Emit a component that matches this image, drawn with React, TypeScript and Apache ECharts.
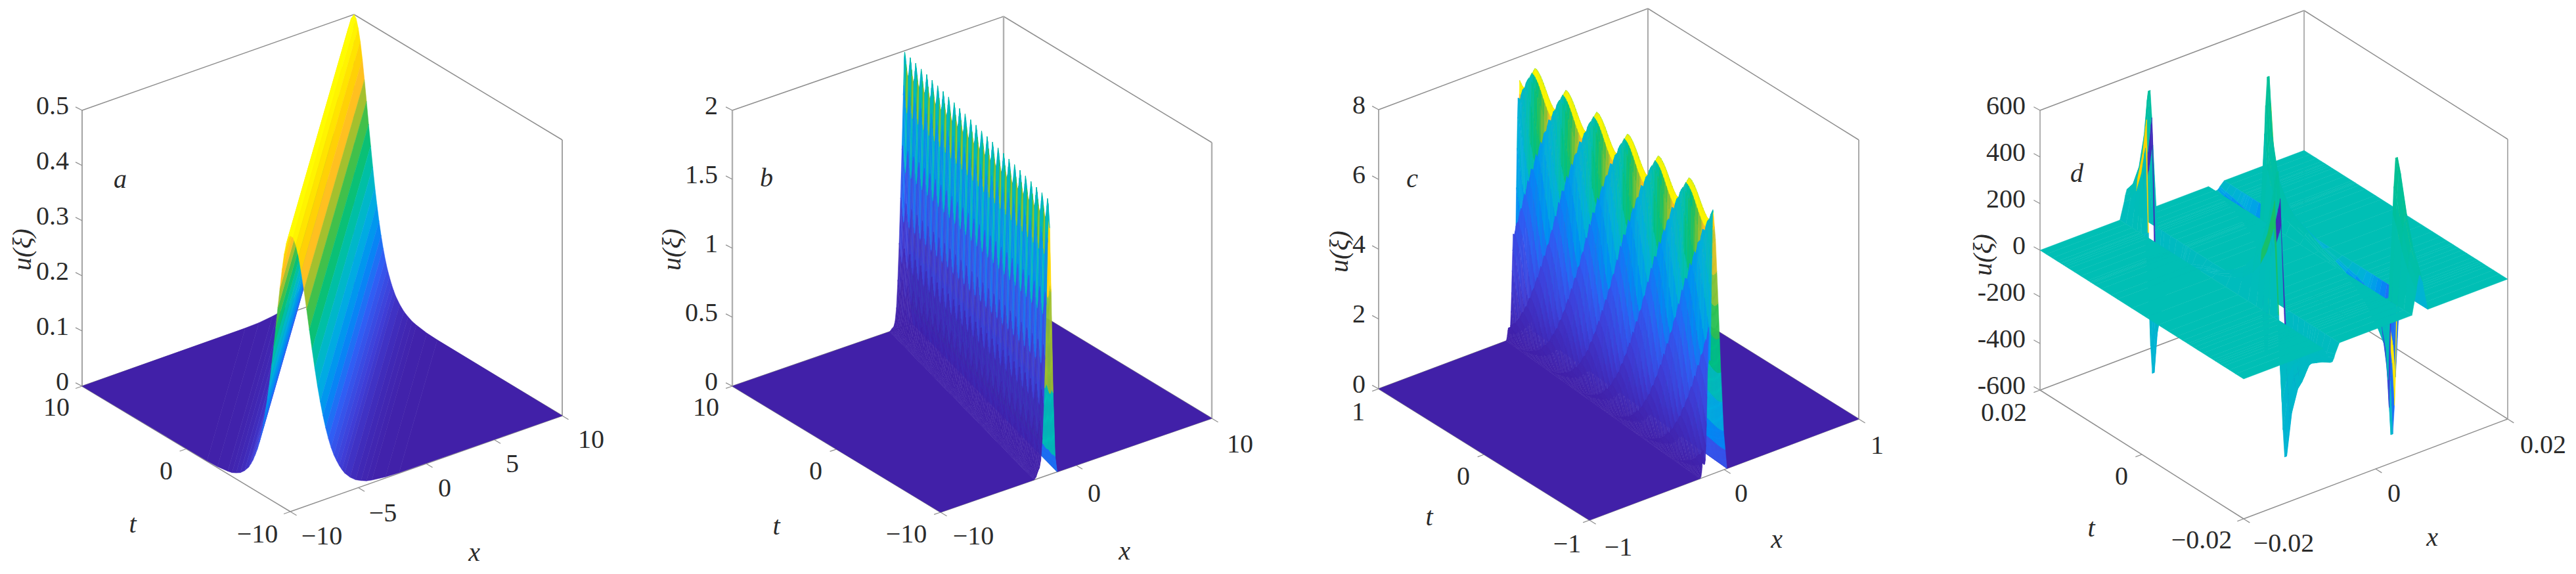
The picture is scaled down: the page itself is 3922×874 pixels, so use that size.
import { useEffect, useRef } from 'react'
import * as echarts from 'echarts'

// ---- values ----

// panel a: u against |x - t| (even in x - t), drawn as strips along the ridge
const aXi = [0, 0.2, 0.4, 0.6, 0.8, 1, 1.2, 1.4, 1.6, 1.8, 2, 2.2, 2.4, 2.6, 2.8, 3, 3.2, 3.4, 3.6, 3.8, 4, 4.4, 4.8, 5.2, 5.6, 6, 7, 8, 20]
const aU = [0.5, 0.495, 0.48, 0.458, 0.428, 0.393, 0.356, 0.317, 0.28, 0.244, 0.21, 0.18, 0.153, 0.129, 0.108, 0.09, 0.075, 0.063, 0.052, 0.043, 0.035, 0.024, 0.016, 0.011, 0.007, 0.005, 0.002, 0.001, 0]

// panel b: wall across x and its ripple along t
const bXi = [0, 0.15, 0.3, 0.4, 0.5, 0.6, 0.7, 0.8, 0.9, 1, 1.06, 1.15, 1.25, 1.4, 1.55, 1.7]
const bEnv = [0, 0.01, 0.03, 0.06, 0.11, 0.2, 0.32, 0.48, 0.67, 0.88, 1, 0.92, 0.68, 0.3, 0.06, 0]
const bShift = [1.2, 1, 0.8, 0.6, 0.45, 0.3, 0.2, 0.1, 0.05, 0, 0, 0, 0, 0, 0, 0]
const bDepth = [1, 1, 1, 0.85, 0.7, 0.55, 0.42, 0.32, 0.25, 0.18, 0.13, 0.13, 0.13, 0.13, 0.13, 0.13]
const bGamma = [2, 2, 2, 2, 2, 2, 2, 2, 2, 2, 2, 0.4, 0.4, 0.4, 0.4, 0.4]
const bHump = [1, 0.86, 0.68, 0.52, 0.42, 0.4, 0.52, 0.76]
const bTone = [0.6, 0.55, 0.82, 0.98, 1, 0.72, 0.55, 0.5]

// panel c: wall across x and its six humps along t
const cXi = [0, 0.008, 0.016, 0.024, 0.032, 0.04, 0.048, 0.056, 0.064, 0.072, 0.08, 0.088, 0.096, 0.1, 0.115, 0.135, 0.155, 0.175, 0.2]
const cEnv = [0, 0.02, 0.05, 0.1, 0.16, 0.24, 0.33, 0.43, 0.54, 0.65, 0.76, 0.86, 0.95, 1, 0.9, 0.65, 0.38, 0.15, 0]
const cShift = [3, 2.7, 2.45, 2.2, 2, 1.8, 1.6, 1.4, 1.2, 1, 0.75, 0.5, 0.2, 0, 0, 0, 0, 0, 0]
const cDepth = [1, 1, 1, 1, 0.97, 0.92, 0.85, 0.75, 0.65, 0.55, 0.45, 0.3, 0.15, 0.12, 0.12, 0.12, 0.12, 0.12, 0.12]
const cGamma = [1.3, 1.3, 1.3, 1.3, 1.3, 1.3, 1.3, 1.3, 1.3, 1.3, 1.3, 1.3, 1.3, 1.3, 0.5, 0.5, 0.5, 0.5, 0.5]
const cHump = [1, 0.96, 0.87, 0.74, 0.58, 0.42, 0.28, 0.18, 0.16, 0.3, 0.55, 0.82]
const cTone = [0.5, 0.54, 0.58, 0.64, 0.72, 0.8, 0.88, 0.94, 1, 1, 0.85, 0.6]

// panel d: two singular lines x = +-0.0067; heights along them per row (null = off the axis)
const dFrac = [0, 0.03, 0.06, 0.085, 0.1, 0.105, 0.115, 0.125, 0.14, 0.17, 0.2, 0.235, 0.245, 0.25, 0.255, 0.27, 0.3, 0.35, 0.38, 0.45, 0.52, 0.58, 0.63, 0.67, 0.7, 0.725, 0.735, 0.755, 0.775, 0.8, 0.83, 0.85, 0.862, 0.873, 0.885, 0.9, 0.93, 0.96, 1]
const dLine1 = [120, 160, 250, 400, 560, 600, null, -600, -420, -260, -190, -150, -140, -130, -125, -110, -70, -35, -20, 15, 60, 110, 190, 290, 400, 540, 600, null, -600, -400, -280, -240, -210, -180, -150, -130, -110, -90, -70]
const dLine2 = [-30, -40, -50, -60, -65, -70, -75, -80, -90, -110, -150, -300, -600, null, 600, 350, 190, 100, 70, 40, 5, -15, -35, -50, -70, -90, -100, -120, -150, -180, -230, -380, -600, null, 600, 540, 380, 260, 160]
const dOffset = [-0.0012, -0.00055, -0.0004, -0.00015, 0.00015, 0.0004, 0.00055, 0.0012]
const dPeak = [0, 0.6, 0.8, 1, 1, 0.8, 0.6, 0]

// tick labels
const aZTicks = ['0', '0.1', '0.2', '0.3', '0.4', '0.5']
const bZTicks = ['0', '0.5', '1', '1.5', '2']
const cZTicks = ['0', '2', '4', '6', '8']
const dZTicks = ['-600', '-400', '-200', '0', '200', '400', '600']

const COLOR_POS = [0, 0.1, 0.2, 0.3, 0.4, 0.5, 0.58, 0.66, 0.74, 0.82, 0.9, 1]
const COLOR_HEX = ['#4120a8', '#3f3fd8', '#2f5ff5', '#008cf5', '#00aee0', '#00bfb5', '#00c080', '#30c050', '#98c030', '#ffc020', '#ffd400', '#ffff00']

const serif = '"Liberation Serif", "Times New Roman", serif'
const frameColor = '#8f8f8f'

type P3 = [number, number, number]
type Panel = {
  front: number[]; left: number[]; right: number[]; height: number
  xr: number[]; tr: number[]; zr: number[]
  xTicks: number[]; tTicks: number[]; zTicks: number[]
  vert: string; vertW: number
  zLabels: string[]; zRight: number
  labels: [string, number, number][]
  tPos: number[]; xPos: number[]; letter: string; letterPos: number[]; uPos: number[]
}

const hexRgb = (h: string) => [1, 3, 5].map((i) => parseInt(h.slice(i, i + 2), 16))
function colorOf(v: number) {
  const c = Math.max(0, Math.min(1, v))
  let i = 0
  while (i < COLOR_POS.length - 2 && c > COLOR_POS[i + 1]) i++
  const f = (c - COLOR_POS[i]) / (COLOR_POS[i + 1] - COLOR_POS[i])
  const a = hexRgb(COLOR_HEX[i])
  const b = hexRgb(COLOR_HEX[i + 1])
  return `rgb(${a.map((q, k) => Math.round(q + (b[k] - q) * f)).join(',')})`
}

const panels: Panel[] = [
  {
    front: [442, 779], left: [125, 588], right: [856, 633], height: 420,
    xr: [-10, 10], tr: [-10, 10], zr: [0, 0.5],
    xTicks: [-10, -5, 0, 5, 10], tTicks: [-10, 0, 10], zTicks: [0, 0.1, 0.2, 0.3, 0.4, 0.5],
    vert: '#8c8c8c', vertW: 1.6, zLabels: aZTicks, zRight: 105,
    labels: [['10', 86, 619], ['0', 253, 716], ['\u221210', 392, 812], ['\u221210', 490, 815], ['\u22125', 583, 780], ['0', 677, 742], ['5', 780, 705], ['10', 900, 668]],
    tPos: [202, 797], xPos: [722, 840], letter: 'a', letterPos: [183, 272], uPos: [33, 380],
  },
  {
    front: [1432, 780], left: [1115, 588], right: [1845, 637], height: 420,
    xr: [-10, 10], tr: [-10, 10], zr: [0, 2],
    xTicks: [-10, 0, 10], tTicks: [-10, 0, 10], zTicks: [0, 0.5, 1, 1.5, 2],
    vert: '#b0b0b0', vertW: 2.4, zLabels: bZTicks, zRight: 1093,
    labels: [['10', 1075, 619], ['0', 1242, 716], ['\u221210', 1380, 812], ['\u221210', 1482, 815], ['0', 1666, 750], ['10', 1888, 675]],
    tPos: [1182, 800], xPos: [1712, 838], letter: 'b', letterPos: [1167, 270], uPos: [1022, 380],
  },
  {
    front: [2420, 792], left: [2099, 592], right: [2830, 638], height: 425,
    xr: [-1, 1], tr: [-1, 1], zr: [0, 8],
    xTicks: [-1, 0, 1], tTicks: [-1, 0, 1], zTicks: [0, 2, 4, 6, 8],
    vert: '#a0a0a0', vertW: 1.8, zLabels: cZTicks, zRight: 2079,
    labels: [['1', 2068, 626], ['0', 2228, 724], ['\u22121', 2386, 827], ['\u22121', 2464, 832], ['0', 2651, 750], ['1', 2858, 677]],
    tPos: [2176, 786], xPos: [2705, 820], letter: 'c', letterPos: [2150, 271], uPos: [2038, 383],
  },
  {
    front: [3416, 790], left: [3106, 594], right: [3818, 638], height: 426,
    xr: [-0.02, 0.02], tr: [-0.02, 0.02], zr: [-600, 600],
    xTicks: [-0.02, 0, 0.02], tTicks: [-0.02, 0, 0.02], zTicks: [-600, -400, -200, 0, 200, 400, 600],
    vert: '#a8a8a8', vertW: 1.8, zLabels: dZTicks, zRight: 3084,
    labels: [['0.02', 3051, 627], ['0', 3230, 724], ['\u22120.02', 3352, 821], ['\u22120.02', 3477, 826], ['0', 3645, 750], ['0.02', 3872, 676]],
    tPos: [3184, 803], xPos: [3703, 817], letter: 'd', letterPos: [3162, 263], uPos: [3018, 388],
  },
]

function project(p: Panel, q: P3): number[] {
  const a = (q[0] - p.xr[0]) / (p.xr[1] - p.xr[0])
  const b = (q[1] - p.tr[0]) / (p.tr[1] - p.tr[0])
  const c = (q[2] - p.zr[0]) / (p.zr[1] - p.zr[0])
  return [
    p.front[0] + a * (p.right[0] - p.front[0]) + b * (p.left[0] - p.front[0]),
    p.front[1] + a * (p.right[1] - p.front[1]) + b * (p.left[1] - p.front[1]) - c * p.height,
  ]
}

// keep the part of a cell that lies inside the x/t box
function clip(poly: P3[], axis: number, lim: number, keepAbove: boolean) {
  const out: P3[] = []
  const inside = (q: P3) => (keepAbove ? q[axis] >= lim : q[axis] <= lim)
  poly.forEach((a, i) => {
    const b = poly[(i + 1) % poly.length]
    if (inside(a)) out.push(a)
    if (inside(a) !== inside(b)) {
      const f = (lim - a[axis]) / (b[axis] - a[axis])
      out.push([a[0] + (b[0] - a[0]) * f, a[1] + (b[1] - a[1]) * f, a[2] + (b[2] - a[2]) * f])
    }
  })
  return out
}
function clipBox(p: Panel, poly: P3[]) {
  let r = clip(poly, 0, p.xr[0], true)
  r = clip(r, 0, p.xr[1], false)
  r = clip(r, 1, p.tr[0], true)
  return clip(r, 1, p.tr[1], false)
}

type Cell = { pts: P3[]; color: string }

function surfaceA(p: Panel): Cell[] {
  const xi = [...aXi.slice(1).reverse().map((v) => -v), ...aXi]
  const u = [...aU.slice(1).reverse(), ...aU]
  const cells: Cell[] = []
  for (let i = 0; i < xi.length - 1; i++) {
    const corner = (k: number, s: number): P3 => [(s + xi[k]) / 2, (s - xi[k]) / 2, u[k]]
    const pts = clipBox(p, [corner(i, -40), corner(i + 1, -40), corner(i + 1, 40), corner(i, 40)])
    if (pts.length > 2) cells.push({ pts, color: colorOf((u[i] + u[i + 1]) / 2 / 0.5) })
  }
  return cells
}

type Wall = {
  x0: number; slope: number; period: number; crest: number; perPeriod: number; refine: number; farTone: number
  xi: number[]; env: number[]; shift: number[]; depth: number[]; gamma: number[]; hump: number[]; tone: number[]
}
const wrap = (v: number) => ((v % 1) + 1) % 1
function humpAt(h: number[], phase: number) {
  const f = wrap(phase) * h.length
  const i = Math.floor(f)
  return h[i % h.length] + (h[(i + 1) % h.length] - h[i % h.length]) * (f - i)
}
// finer mesh across the wall between the table's columns
function refineCol(col: number[], m: number) {
  const out: number[] = []
  for (let i = 0; i < col.length - 1; i++) {
    for (let k = 0; k < m; k++) out.push(col[i] + ((col[i + 1] - col[i]) * k) / m)
  }
  out.push(col[col.length - 1])
  return out
}
function surfaceWall(p: Panel, w: Wall): Cell[] {
  const zMax = p.zr[1]
  const xi = refineCol(w.xi, w.refine)
  const env = refineCol(w.env, w.refine)
  const shift = refineCol(w.shift, w.refine)
  const depth = refineCol(w.depth, w.refine)
  const gamma = refineCol(w.gamma, w.refine)
  const phaseOf = (i: number, t: number) => (w.crest + shift[i] * w.period - t) / w.period
  const nodeZ = (i: number, t: number) => zMax * env[i] * (1 - depth[i] * (1 - humpAt(w.hump, phaseOf(i, t))))
  const floorColor = COLOR_HEX[0]
  const [xa, xb] = p.xr
  const [ta, tb] = p.tr
  const edge = (v: number, t: number) => w.x0 + w.slope * t + v
  const cells: Cell[] = [
    { color: floorColor, pts: [[xa, tb, 0], [edge(xi[0], tb), tb, 0], [edge(xi[0], ta), ta, 0], [xa, ta, 0]] },
    { color: floorColor, pts: [[edge(xi[xi.length - 1], tb), tb, 0], [xb, tb, 0], [xb, ta, 0], [edge(xi[xi.length - 1], ta), ta, 0]] },
  ]
  const dt = w.period / w.perPeriod
  for (let t = tb; t > ta + 1e-9; t -= dt) {
    const t2 = Math.max(t - dt, ta)
    for (let i = xi.length - 2; i >= 0; i--) {
      const node = (k: number, tt: number): P3 => [edge(xi[k], tt), tt, nodeZ(k, tt)]
      const q = [node(i, t), node(i + 1, t), node(i + 1, t2), node(i, t2)]
      const mean = (q[0][2] + q[1][2] + q[2][2] + q[3][2]) / 4 / zMax
      const far = gamma[i] < 1
      const rim = env[i] >= 0.97 && env[i + 1] >= 0.97
      const phase = wrap(phaseOf(i, (t + t2) / 2))
      const tone = far ? w.farTone : w.tone[Math.floor(phase * w.tone.length) % w.tone.length]
      cells.push({ pts: q, color: colorOf(rim ? 0.98 : Math.pow(mean, gamma[i]) * tone) })
    }
  }
  return cells
}

function surfaceD(p: Panel): Cell[] {
  const x1 = -0.0067
  const x2 = 0.0067
  const xs = [p.xr[0], ...dOffset.map((o) => x1 + o), ...dOffset.map((o) => x2 + o), p.xr[1]]
  const weight = (k: number, line: number) => {
    const j = line === 1 ? k - 1 : k - 1 - dOffset.length
    return j >= 0 && j < dPeak.length ? dPeak[j] : 0
  }
  const tOf = (f: number) => p.tr[1] - f * (p.tr[1] - p.tr[0])
  const nodeZ = (k: number, r: number) => {
    const w1 = weight(k, 1)
    const w2 = weight(k, 2)
    const a = dLine1[r]
    const b = dLine2[r]
    if ((w1 === 1 && a === null) || (w2 === 1 && b === null)) return null
    return w1 * (a ?? 0) + w2 * (b ?? 0)
  }
  const tone = (k: number, z: number, frac: number) => {
    const big = Math.abs(z) > 200
    const j1 = k - 1
    const j2 = k - 1 - dOffset.length
    if (j1 === 1 && z > 200) return frac < 0.2 ? 0.9 : 0.62
    if (j1 === 5 && big) return 0.04
    if (j2 === 1 && z < -200) return 0.1
    if (j2 === 5 && big) return 0.95
    if (j2 >= 4 && j2 <= 6 && z < 0) return 0.5 - 0.26 * Math.min(1, Math.abs(z) / 60)
    if (j2 >= 4 && j2 <= 6 && z > 0 && z < 150) return 0.43
    return 0.5 + (z / 600) * 0.06 + (j1 >= 0 && j1 < 8 && z !== 0 ? -0.02 : 0)
  }
  const cells: Cell[] = []
  for (let r = 0; r < dFrac.length - 1; r++) {
    for (let k = xs.length - 2; k >= 0; k--) {
      const za = nodeZ(k, r)
      const zb = nodeZ(k + 1, r)
      const zc = nodeZ(k + 1, r + 1)
      const zd = nodeZ(k, r + 1)
      if (za === null || zb === null || zc === null || zd === null) continue
      const t1 = tOf(dFrac[r])
      const t2 = tOf(dFrac[r + 1])
      const mean = (za + zb + zc + zd) / 4
      cells.push({
        pts: [[xs[k], t1, za], [xs[k + 1], t1, zb], [xs[k + 1], t2, zc], [xs[k], t2, zd]],
        color: colorOf(tone(k, mean, dFrac[r])),
      })
    }
  }
  return cells
}

const surfaces: Cell[][] = [
  surfaceA(panels[0]),
  surfaceWall(panels[1], { x0: -0.75, slope: 0.235, period: 0.76, crest: 9.9, perPeriod: 8, refine: 1, farTone: 1, xi: bXi, env: bEnv, shift: bShift, depth: bDepth, gamma: bGamma, hump: bHump, tone: bTone }),
  surfaceWall(panels[2], { x0: -0.116, slope: 0.063, period: 0.3176, crest: 0.838, perPeriod: 22, refine: 2, farTone: 0.9, xi: cXi, env: cEnv, shift: cShift, depth: cDepth, gamma: cGamma, hump: cHump, tone: cTone }),
  surfaceD(panels[3]),
]

type Mark =
  | { kind: 'line'; a: number[]; b: number[]; color: string; width: number }
  | { kind: 'poly'; pts: number[][]; color: string }

function frameMarks(p: Panel): Mark[] {
  const [xa, xb] = p.xr
  const [ta, tb] = p.tr
  const [za, zb] = p.zr
  const P = (x: number, t: number, z: number) => project(p, [x, t, z])
  const edge = (a: number[], b: number[]): Mark => ({ kind: 'line', a, b, color: frameColor, width: 1.5 })
  const post = (a: number[], b: number[]): Mark => ({ kind: 'line', a, b, color: p.vert, width: p.vertW })
  const marks: Mark[] = [
    edge(P(xa, tb, za), P(xb, tb, za)),
    edge(P(xb, tb, za), P(xb, ta, za)),
    edge(P(xa, tb, za), P(xa, ta, za)),
    edge(P(xa, ta, za), P(xb, ta, za)),
    edge(P(xa, tb, zb), P(xb, tb, zb)),
    edge(P(xb, tb, zb), P(xb, ta, zb)),
    post(P(xa, tb, za), P(xa, tb, zb)),
    post(P(xb, tb, za), P(xb, tb, zb)),
    post(P(xb, ta, za), P(xb, ta, zb)),
  ]
  const ux = [(p.right[0] - p.front[0]) * 0.024, (p.right[1] - p.front[1]) * 0.024]
  const ut = [(p.left[0] - p.front[0]) * 0.03, (p.left[1] - p.front[1]) * 0.03]
  p.zTicks.forEach((z) => {
    const a = P(xa, tb, z)
    marks.push({ kind: 'line', a, b: [a[0] - ux[0], a[1] - Math.abs(ut[1]) * 0.9], color: frameColor, width: 1.3 })
  })
  p.tTicks.forEach((t) => {
    const a = P(xa, t, za)
    marks.push({ kind: 'line', a, b: [a[0] - ux[0], a[1] - ux[1]], color: frameColor, width: 1.3 })
  })
  p.xTicks.forEach((x) => {
    const a = P(x, ta, za)
    marks.push({ kind: 'line', a, b: [a[0] - ut[0], a[1] - ut[1]], color: frameColor, width: 1.3 })
  })
  return marks
}

function panelText(p: Panel) {
  const base = { fontFamily: serif, fill: '#2b2b2b', fontSize: 40 }
  const els: any[] = []
  const put = (text: string, x: number, y: number, extra: any = {}) =>
    els.push({ type: 'text', x, y, silent: true, rotation: extra.rotation ?? 0, style: { ...base, text, textAlign: extra.align ?? 'center', textVerticalAlign: 'middle', fontStyle: extra.italic ? 'italic' : 'normal' } })
  p.zTicks.forEach((z, i) => put(p.zLabels[i], p.zRight, project(p, [p.xr[0], p.tr[1], z])[1] - 8, { align: 'right' }))
  p.labels.forEach(([s, x, y]) => put(s, x, y))
  put('t', p.tPos[0], p.tPos[1], { italic: true })
  put('x', p.xPos[0], p.xPos[1], { italic: true })
  put(p.letter, p.letterPos[0], p.letterPos[1], { italic: true })
  put('u(\u03be)', p.uPos[0], p.uPos[1], { italic: true, rotation: Math.PI / 2 })
  return els
}

export default function App() {
  const chartRef = useRef<HTMLDivElement>(null)

  useEffect(() => {
    if (!chartRef.current) return
    const chart = echarts.init(chartRef.current, undefined, { renderer: 'svg' })

    const series = panels.map((p, n) => {
      const marks: Mark[] = [
        ...frameMarks(p),
        ...surfaces[n].map((c): Mark => ({ kind: 'poly', color: c.color, pts: c.pts.map((q) => project(p, q)) })),
      ]
      return {
        type: 'custom',
        coordinateSystem: 'cartesian2d',
        clip: false,
        silent: true,
        progressive: 0,
        animation: false,
        data: marks.map((_, i) => [i, 0]),
        renderItem: (params: any, api: any) => {
          const m = marks[params.dataIndex]
          if (m.kind === 'line') {
            const a = api.coord(m.a)
            const b = api.coord(m.b)
            return { type: 'line', shape: { x1: a[0], y1: a[1], x2: b[0], y2: b[1] }, style: { stroke: m.color, lineWidth: m.width } }
          }
          return {
            type: 'polygon',
            shape: { points: m.pts.map((q) => api.coord(q)) },
            style: { fill: m.color, stroke: m.color, lineWidth: 0.5 },
          }
        },
      }
    })

    chart.setOption({
      animation: false,
      backgroundColor: '#ffffff',
      grid: { left: 0, right: 0, top: 0, bottom: 0 },
      xAxis: { type: 'value', min: 0, max: 3922, show: false },
      yAxis: { type: 'value', min: 0, max: 874, inverse: true, show: false },
      graphic: { elements: panels.flatMap(panelText) },
      series,
    } as any)

    return () => chart.dispose()
  }, [])

  return <div ref={chartRef} style={{ position: 'absolute', left: 0, top: 0, width: 3922, height: 874 }} />
}
